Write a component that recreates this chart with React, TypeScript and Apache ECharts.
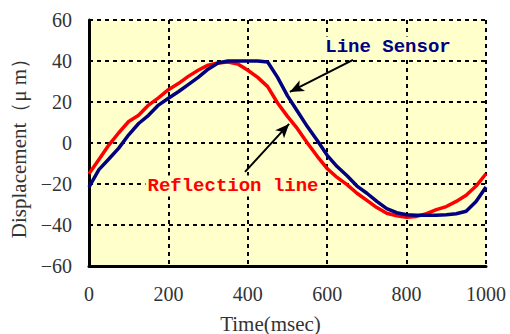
import React, { useEffect, useRef } from "react";
import * as echarts from "echarts";

const times: number[] = [
  0, 25, 50, 75, 100, 125, 150, 175, 200, 225, 250, 275, 300, 325, 350, 375, 400,
  425, 450, 475, 500, 525, 550, 575, 600, 625, 650, 675, 700, 725, 750, 775, 800,
  825, 850, 875, 900, 925, 950, 975, 1000,
];

const lineSensor: number[] = [
  -21.5, -13, -7.8, -2.5, 4, 9.5, 13.5, 18.5, 21.8, 25, 28.5, 32, 36, 39, 40, 40, 40,
  40, 39.5, 32, 23, 15.5, 8, 1.2, -6, -11.5, -16, -21, -24.5, -28.5, -32, -34, -35,
  -35.2, -35.2, -35.2, -35, -34.5, -33.3, -28.5, -21.5,
];

const reflectionLine: number[] = [
  -15, -8, -1, 5, 10.5, 13.5, 18.5, 22, 26, 29, 32.5, 35.5, 38, 39, 39.5, 38.5, 35.5,
  32, 27.5, 19.5, 13, 7, 0, -6.5, -12.5, -16.8, -20.3, -24.5, -28, -31.5, -34.3, -35.5, -36.2,
  -35.8, -34.5, -32.5, -31, -28.5, -25.5, -21, -15,
];

const xTicks = { min: 0, max: 1000, interval: 200 };
const yTicks = { min: -60, max: 60, interval: 20 };

export default function App() {
  const ref = useRef<HTMLDivElement>(null);
  useEffect(() => {
    if (!ref.current) return;
    const chart = echarts.init(ref.current, undefined, { renderer: "svg" });
    const serif = "'Liberation Serif', 'Times New Roman', serif";
    const mono = "'Liberation Mono', 'DejaVu Sans Mono', monospace";
    const splitLine = {
      show: true,
      lineStyle: { color: "#000", width: 2, type: [4, 4] as any },
    };
    const fmt = (v: number) => String(v).replace("-", "\u2212");
    chart.setOption({
      animation: false,
      backgroundColor: "#fff",
      grid: {
        left: 89,
        right: 24,
        top: 20,
        bottom: 68,
        outerBoundsMode: "none",
        show: true,
        backgroundColor: "#ffffcc",
        borderWidth: 0,
      },
      xAxis: {
        type: "value",
        min: xTicks.min,
        max: xTicks.max,
        interval: xTicks.interval,
        name: "Time(msec)",
        nameLocation: "middle",
        nameGap: 47,
        nameTextStyle: {
          fontFamily: serif,
          fontSize: 21,
          color: "#333",
          padding: [0, 34, 0, 0],
        },
        axisLine: { show: true, onZero: false, lineStyle: { color: "#000", width: 3 } },
        axisTick: { show: false },
        axisLabel: { fontFamily: serif, fontSize: 20, color: "#333", margin: 18, formatter: fmt },
        splitLine,
      },
      yAxis: {
        type: "value",
        min: yTicks.min,
        max: yTicks.max,
        interval: yTicks.interval,
        name: "Displacement（μ m）",
        nameLocation: "middle",
        nameGap: 58,
        nameTextStyle: { fontFamily: serif, fontSize: 21, color: "#333" },
        axisLine: { show: true, onZero: false, lineStyle: { color: "#000", width: 3 } },
        axisTick: { show: false },
        axisLabel: { fontFamily: serif, fontSize: 20, color: "#333", margin: 17, formatter: fmt },
        splitLine,
      },
      series: [
        {
          name: "Reflection line",
          type: "line",
          data: times.map((t, i) => [t, reflectionLine[i]]),
          showSymbol: false,
          lineStyle: { color: "#ff0000", width: 3.5 },
          z: 2,
        },
        {
          name: "Line Sensor",
          type: "line",
          data: times.map((t, i) => [t, lineSensor[i]]),
          showSymbol: false,
          lineStyle: { color: "#000080", width: 3.5 },
          z: 3,
          markLine: {
            silent: true,
            symbol: ["none", "arrow"],
            symbolSize: [9, 14],
            label: { show: false },
            lineStyle: { color: "#000", width: 2, type: "solid" },
            data: [
              [{ coord: [665, 40.5] }, { coord: [506, 24.9] }],
              [{ coord: [393, -14.1] }, { coord: [504, 9.3] }],
            ],
          },
        },
      ],
      graphic: [
        {
          type: "text",
          x: 388,
          y: 47,
          style: {
            text: "Line Sensor",
            fontFamily: mono,
            fontWeight: "bold",
            fontSize: 19,
            fill: "#000080",
            align: "center",
            verticalAlign: "middle",
            backgroundColor: "#ffffcc",
            padding: [1, 2],
          },
          z: 10,
        },
        {
          type: "text",
          x: 233,
          y: 186,
          style: {
            text: "Reflection line",
            fontFamily: mono,
            fontWeight: "bold",
            fontSize: 19,
            fill: "#ff0000",
            align: "center",
            verticalAlign: "middle",
            backgroundColor: "#ffffcc",
            padding: [1, 2],
          },
          z: 10,
        },
      ],
    });
    return () => chart.dispose();
  }, []);
  return <div ref={ref} style={{ width: 510, height: 334, position: "absolute", left: 0, top: 0 }} />;
}
